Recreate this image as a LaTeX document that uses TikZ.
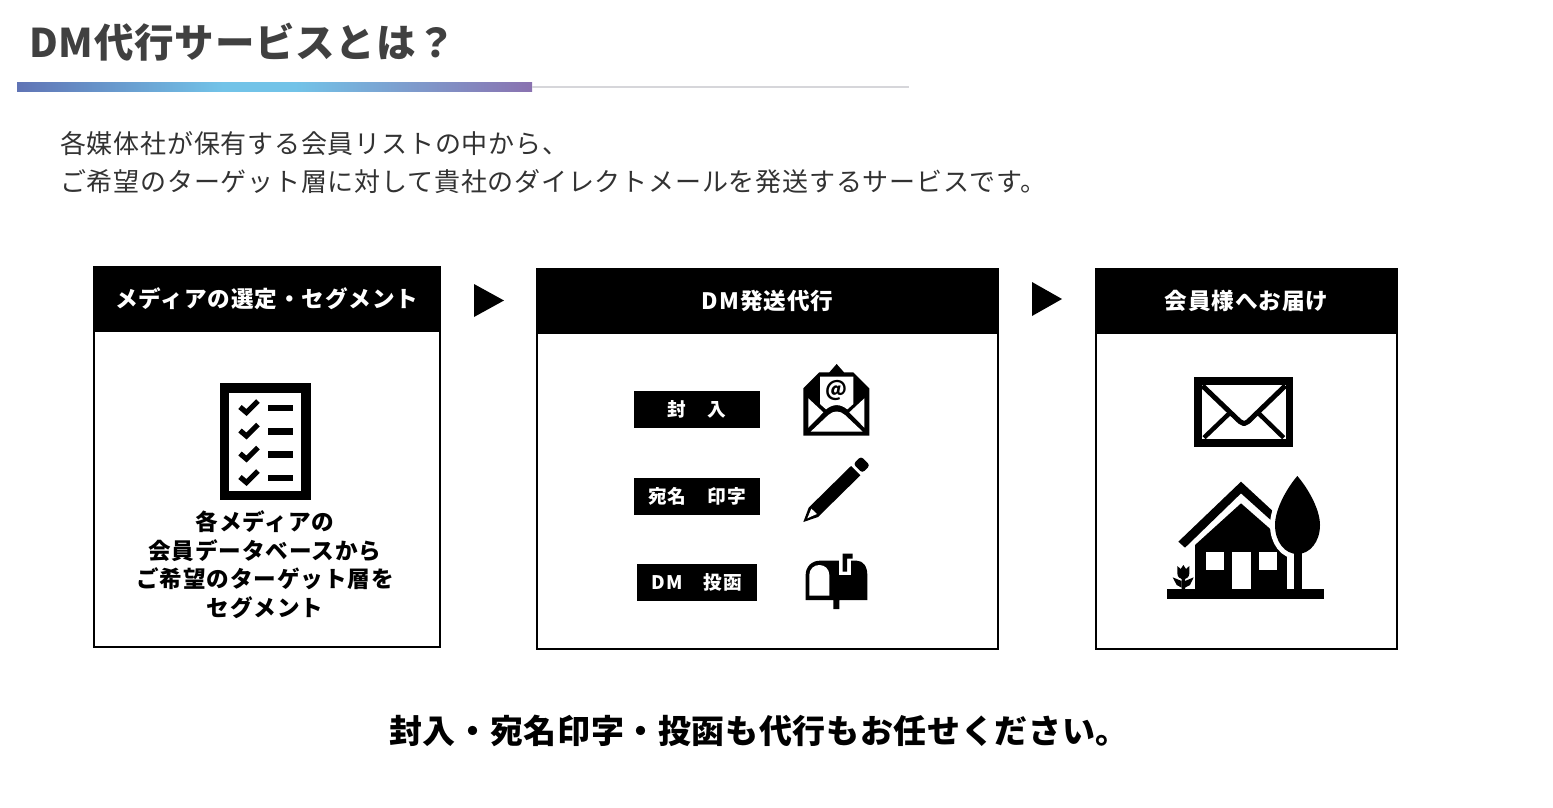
\documentclass[tikz,border=0pt]{standalone}
\usepackage{fontspec}
\setmainfont{Noto Sans CJK JP}
\usepackage{xcolor}
\usetikzlibrary{positioning}
\definecolor{TitleGray}{RGB}{64, 64, 64}
\definecolor{BodyGray}{RGB}{50, 50, 50}
\definecolor{RuleGray}{RGB}{214, 214, 218}
\definecolor{BarBlue}{RGB}{96, 116, 181}
\definecolor{BarSky}{RGB}{114, 195, 232}
\definecolor{BarPurple}{RGB}{138, 114, 176}
\pgfdeclarehorizontalshading{barshade}{100bp}{
	color(0bp)=(BarBlue); color(25bp)=(BarBlue); color(45bp)=(BarSky);
	color(52bp)=(BarSky); color(75bp)=(BarPurple); color(100bp)=(BarPurple)}
\tikzset{
	title/.style={anchor=west, inner sep=0pt, text=TitleGray, font=\fontsize{39.5}{42}\selectfont\bfseries\addfontfeature{LetterSpace=2}},
	lead/.style={anchor=west, align=left, inner sep=0pt, text=BodyGray, font=\fontsize{26}{38}\selectfont\addfontfeature{LetterSpace=3}},
	boxframe/.style={draw=black, line width=2.4pt, fill=white},
	boxhead/.style={fill=black, draw=black, line width=1pt, text=white, font=\fontsize{22.6}{24}\selectfont\bfseries\addfontfeature{LetterSpace=4}},
	steptag/.style={fill=black, inner sep=0pt, text=white, font=\fontsize{18.7}{20}\selectfont\bfseries\addfontfeature{LetterSpace=6}},
	caption/.style={align=center, inner sep=0pt, text=black, font=\fontsize{22.6}{28.5}\selectfont\bfseries\addfontfeature{LetterSpace=4}},
	closing/.style={inner sep=0pt, text=black, font=\fontsize{33}{35}\selectfont\bfseries\addfontfeature{LetterSpace=2}},
	tick/.style={line width=5.2pt, line join=miter},
}
\begin{document}
\begin{tikzpicture}[x=1pt, y=-1pt]
\useasboundingbox (0,0) rectangle (1553,807);

% heading
\node[title] (heading) at (29,42) {DM代行サービスとは？};
\shade[shading=barshade] (17,82) rectangle (532,91);
\fill[RuleGray] (532,86) rectangle (909,88);
\node[lead] (intro) at (60,163) {各媒体社が保有する会員リストの中から、\\ご希望のターゲット層に対して貴社のダイレクトメールを発送するサービスです。};

% three boxes
\draw[boxframe] (94,267) rectangle (440,647);
\node[boxhead, minimum width=346.5pt, minimum height=65pt] (mediahead) at (267,299) {メディアの選定・セグメント};
\draw[boxframe] (537,269) rectangle (998,649);
\node[boxhead, minimum width=462pt, minimum height=65pt] (sendhead) at (767.5,301) {DM発送代行};
\draw[boxframe] (1096,269) rectangle (1397,649);
\node[boxhead, minimum width=302pt, minimum height=65pt] (deliverhead) at (1246.5,301) {会員様へお届け};

% arrows between them
\fill (474,284) -- (504,300.5) -- (474,317) -- cycle;
\fill (1032,282) -- (1062,299) -- (1032,316) -- cycle;

% check list
\fill (220,383) rectangle (311,500);
\fill[white] (229,393) rectangle (301,491);
\foreach \y in {0,23.5,46.5,70} {
	\draw[tick] (240,407+\y) -- (246.5,412.5+\y) -- (258,401+\y);
	\fill (268,404.5+\y) rectangle (293,411+\y);
}
\node[caption] (mediatext) at (265,564.5) {各メディアの\\会員データベースから\\ご希望のターゲット層を\\セグメント};

% tags
\node[steptag, minimum width=126pt, minimum height=37pt] (tagenclose) at (697,409.5) {封　入};
\node[steptag, minimum width=126pt, minimum height=37pt] (tagprint) at (697,496.5) {宛名　印字};
\node[steptag, minimum width=120pt, minimum height=37pt] (tagpost) at (697,582.5) {DM　投函};

% open envelope
\begin{scope}[shift={(790,355)}, scale=1/3]
	\fill (40,100) -- (88,52) -- (118,52) -- (140,27) -- (162,52) -- (190,52) -- (238,100) -- (238,242) -- (40,242) -- cycle;
	\fill[white] (90,65) -- (190,65) -- (190,147) -- (172,163) .. controls (150,146) and (130,146) .. (108,163) -- (90,147) -- cycle;
	\fill[white] (55,130) -- (100,172) -- (55,218) -- cycle;
	\fill[white] (223,130) -- (178,172) -- (223,218) -- cycle;
	\fill[white] (62,230) -- (115,180) .. controls (130,166) and (150,166) .. (165,180) -- (218,230) -- cycle;
	\node[inner sep=0pt, font=\fontsize{21}{21}\selectfont\bfseries] (atsign) at (140,107) {@};
\end{scope}

% pencil
\begin{scope}[shift={(790,355)}, scale=1/3]
	\fill[rounded corners=3pt] (190,327) -- (213,304) -- (240,331) -- (217,354) -- cycle;
	\fill (183,333) -- (211,361) -- (84,486) -- (40,501) -- (56,458) -- cycle;
	\fill[white] (64,461) -- (81,477) -- (62,485) -- (52,490) -- cycle;
\end{scope}

% mail box
\begin{scope}[shift={(790,355)}, scale=1/3]
	\fill (47,735) -- (47,660) .. controls (47,635) and (65,617) .. (90,617) -- (200,617) .. controls (220,617) and (232,635) .. (232,660) -- (232,735) -- (148,735) -- (148,762) -- (130,762) -- (130,735) -- cycle;
	\fill[white] (58,722) -- (58,660) .. controls (58,642) and (72,630) .. (88,630) .. controls (104,630) and (118,642) .. (118,660) -- (118,722) -- cycle;
	\fill[white] (148,612) rectangle (182,660);
	\fill (158,596) -- (188,596) -- (188,611) -- (171,611) -- (171,650) -- (158,650) -- cycle;
\end{scope}

% closed envelope and house
\begin{scope}[shift={(1150,365)}, scale=1/3]
	\fill (133,37) rectangle (430,245);
	\fill[white] (155,60) rectangle (408,223);
	\draw[line width=5pt, line join=round] (157,62) -- (270,170) -- (282,176) -- (294,170) -- (406,62);
	\draw[line width=4.5pt] (162,218) -- (236,147);
	\draw[line width=4.5pt] (401,218) -- (328,147);
	% roof
	\fill (85,530) -- (273,350) -- (367,437) -- (362,465) -- (273,385) -- (105,548) -- cycle;
	% walls
	\fill (135,540) -- (273,415) -- (370,500) -- (415,560) -- (415,672) -- (135,672) -- cycle;
	\fill[white] (167,560) rectangle (222,614);
	\fill[white] (247,560) rectangle (302,672);
	\fill[white] (326,560) rectangle (381,614);
	% tree
	\draw[white, line width=10pt] (442,333) .. controls (470,365) and (510,430) .. (510,480) .. controls (510,530) and (480,567) .. (442,567) .. controls (404,567) and (375,530) .. (375,480) .. controls (375,430) and (414,365) .. (442,333) -- cycle;
	\fill[white] (412,560) rectangle (433,672);
	\fill (442,333) .. controls (470,365) and (510,430) .. (510,480) .. controls (510,530) and (480,567) .. (442,567) .. controls (404,567) and (375,530) .. (375,480) .. controls (375,430) and (414,365) .. (442,333) -- cycle;
	\fill (433,555) rectangle (455,672);
	% ground
	\fill (52,672) rectangle (522,703);
	% flower
	\fill (82,603) -- (92,612) -- (100,600) -- (108,612) -- (118,603) -- (118,625) .. controls (118,635) and (110,642) .. (105,642) -- (105,672) -- (95,672) -- (95,642) .. controls (90,642) and (82,635) .. (82,625) -- cycle;
	\fill (68,637) -- (95,648) -- (95,668) -- (80,660) -- cycle;
	\fill (131,637) -- (105,648) -- (105,668) -- (120,660) -- cycle;
\end{scope}

% closing line
\node[closing] (closingline) at (759,731) {封入・宛名印字・投函も代行もお任せください。};
\end{tikzpicture}
\end{document}
